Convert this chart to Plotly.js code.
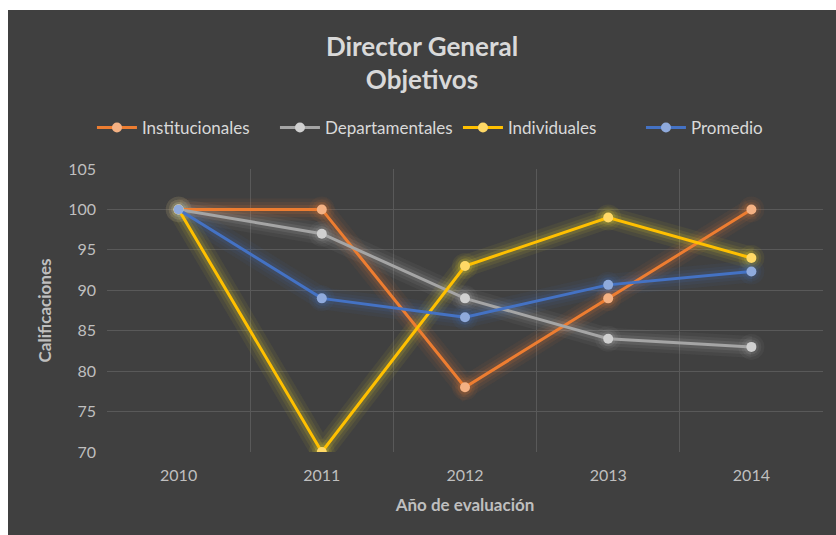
<!DOCTYPE html>
<html><head><meta charset="utf-8">
<script src="https://cdn.plot.ly/plotly-3.0.1.min.js"></script>
<style>
html,body{margin:0;padding:0;background:#ffffff;}
#chart{position:absolute;left:8px;top:10px;width:828px;height:525px;}
</style></head>
<body><div id="chart"></div>
<script>
const years = ['2010','2011','2012','2013','2014'];
const institucionales = [100, 100, 78, 89, 100];
const departamentales = [100, 97, 89, 84, 83];
const individuales = [100, 70, 93, 99, 94];
const promedio = [100, 89, 86.67, 90.67, 92.33];
const names = ['Institucionales','Departamentales','Individuales','Promedio'];
const lineColors = ['#ED7D31','#A5A5A5','#FFC000','#4472C4'];
const markerColors = ['#F4B183','#D0D0D0','#FFD966','#8FAADC'];
const glowRGB = ['237,125,49','190,190,190','255,235,40','68,114,196'];
const series = [institucionales, departamentales, individuales, promedio];

const traces = [];
const glowLayers = [{w:22, m:26, a:0.06},{w:15, m:20, a:0.08},{w:9, m:15, a:0.12}];
series.forEach((s,i)=>{
  glowLayers.forEach(g=>{
    const c = 'rgba('+glowRGB[i]+','+g.a+')';
    traces.push({x: years, y: s, type:'scatter', mode:'lines+markers', showlegend:false, hoverinfo:'skip',
      line:{color:c, width:g.w}, marker:{size:g.m, color:c}});
  });
});
series.forEach((s,i)=>{
  traces.push({x: years, y: s, name: names[i], type:'scatter', mode:'lines+markers',
    line:{color:lineColors[i], width:3}, marker:{size:10, color:markerColors[i]}});
});

const font = "Lato, 'Open Sans', sans-serif";
const layout = {
  width: 828, height: 525,
  paper_bgcolor:'#404040', plot_bgcolor:'#404040',
  margin:{l:99, r:13, t:159, b:83},
  font:{family:font, color:'#BFBFBF', size:16},
  title:{text:'<b>Director General</b><br><b>Objetivos</b>', x:0.5, xanchor:'center', yref:'container', y:0.913, yanchor:'middle',
    font:{family:font, size:26, color:'#D9D9D9'}},
  showlegend:true,
  legend:{orientation:'h', xref:'paper', x:-0.021, xanchor:'left', yref:'paper', y:1.145, yanchor:'middle',
    entrywidth:128, entrywidthmode:'pixels',
    font:{family:font, size:17, color:'#D9D9D9'}, bgcolor:'rgba(0,0,0,0)', itemwidth:40, traceorder:'normal'},
  xaxis:{type:'category', range:[-0.5,4.5], tickson:'boundaries', showgrid:true, gridcolor:'#595959', gridwidth:1, zeroline:false,
    showline:false, ticks:'', ticklabelstandoff:12, tickfont:{size:16, color:'#BFBFBF'},
    title:{text:'<b>Año de evaluación</b>', font:{size:17, color:'#BFBFBF'}, standoff:16}},
  yaxis:{range:[70,105], dtick:5, tick0:70, showgrid:true, gridcolor:'#595959', gridwidth:1, zeroline:false,
    showline:false, ticks:'', ticklabelstandoff:10, tickfont:{size:16, color:'#BFBFBF'},
    title:{text:'<b>Calificaciones</b>', font:{size:17, color:'#BFBFBF'}, standoff:12}},
  hovermode:false
};
Plotly.newPlot('chart', traces, layout, {displayModeBar:false, staticPlot:true});
</script></body></html>
